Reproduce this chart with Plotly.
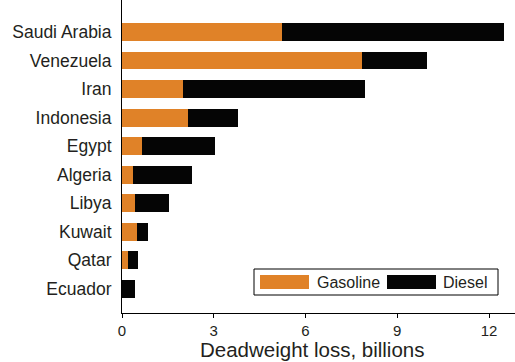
import plotly.graph_objects as go

# Deadweight loss of fuel subsidies, billions
countries = ["Saudi Arabia", "Venezuela", "Iran", "Indonesia", "Egypt",
             "Algeria", "Libya", "Kuwait", "Qatar", "Ecuador"]
gasoline = [5.22, 7.84, 2.01, 2.17, 0.64, 0.36, 0.44, 0.50, 0.18, 0.0]
diesel = [7.27, 2.14, 5.95, 1.62, 2.41, 1.92, 1.09, 0.34, 0.34, 0.44]

ORANGE = "#E08228"
BLACK = "#050505"
FONT = "Liberation Sans, Arial, Helvetica, sans-serif"

# top-to-bottom order: first country at the top
ypos = list(range(len(countries) - 1, -1, -1))

fig = go.Figure()
fig.add_trace(go.Bar(y=ypos, x=gasoline, orientation="h", name="Gasoline",
                     marker=dict(color=ORANGE, line=dict(width=0)), width=0.63))
fig.add_trace(go.Bar(y=ypos, x=diesel, orientation="h", name="Diesel",
                     marker=dict(color=BLACK, line=dict(width=0)), width=0.63))

fig.update_layout(
    barmode="stack",
    width=515, height=362,
    margin=dict(l=122, r=0, t=0, b=49),
    plot_bgcolor="white", paper_bgcolor="white",
    font=dict(family=FONT, color="#231f20"),
    showlegend=False,
    xaxis=dict(range=[0, 12.85], tickvals=[0, 3, 6, 9, 12], ticks="outside",
               ticklen=4, tickcolor="black", showline=True, linecolor="black",
               linewidth=1, showgrid=False, zeroline=False,
               tickfont=dict(size=15), ticklabelstandoff=0),
    yaxis=dict(range=[-0.85, 10.12], tickvals=ypos, ticktext=countries,
               ticks="", showline=True, linecolor="black", linewidth=1,
               showgrid=False, zeroline=False, tickfont=dict(size=17.5),
               ticklabelstandoff=6),
)

# axis title, centred under the data span
fig.add_annotation(xref="x", yref="paper", x=6.2, y=-0.1565,
                   text="Deadweight loss, billions", showarrow=False,
                   xanchor="center", yanchor="bottom", borderpad=0,
                   font=dict(size=20.5, family=FONT))

# legend box with wide swatches
def px_x(p):
    return (p - 122) / 393

def px_y(p):
    return (313 - p) / 313

fig.add_shape(type="rect", xref="paper", yref="paper",
              x0=px_x(254), x1=px_x(498), y0=px_y(295), y1=px_y(269),
              line=dict(color="black", width=1), fillcolor="white")
for name, color, sx0, sx1, tx in [("Gasoline", ORANGE, 260, 309, 315),
                                  ("Diesel", BLACK, 387, 436, 441)]:
    fig.add_shape(type="rect", xref="paper", yref="paper",
                  x0=px_x(sx0), x1=px_x(sx1), y0=px_y(289), y1=px_y(275),
                  line=dict(width=0), fillcolor=color)
    fig.add_annotation(xref="paper", yref="paper", x=px_x(tx), y=px_y(282),
                       text=name, showarrow=False, xanchor="left",
                       yanchor="middle", font=dict(size=16, family=FONT))

fig.write_html("out.html")
